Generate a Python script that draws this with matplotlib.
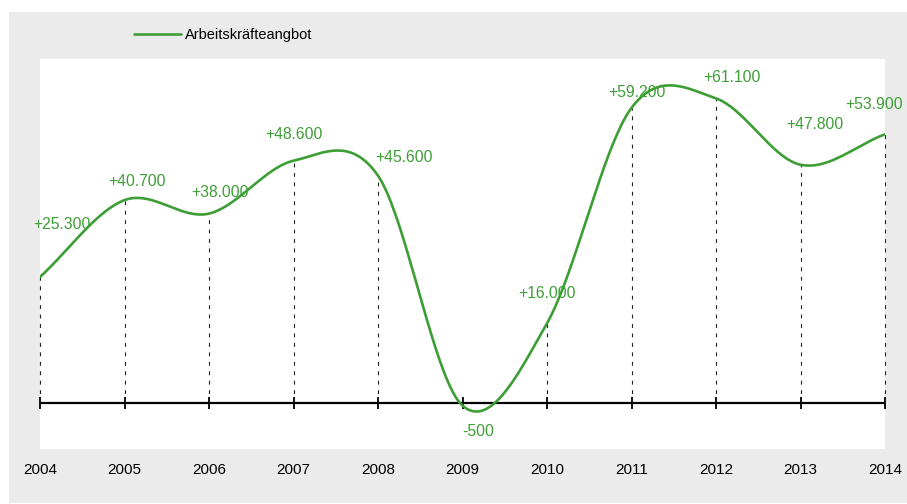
import matplotlib.pyplot as plt
import matplotlib.patches as mpatches
import matplotlib.transforms as mtransforms
import numpy as np

years = [2004, 2005, 2006, 2007, 2008, 2009, 2010, 2011, 2012, 2013, 2014]
values = [25300, 40700, 38000, 48600, 45600, -500, 16000, 59200, 61100, 47800, 53900]
labels = ["+25.300", "+40.700", "+38.000", "+48.600", "+45.600", "-500",
          "+16.000", "+59.200", "+61.100", "+47.800", "+53.900"]
series_name = "Arbeitskräfteangbot"

# label offsets in pixels (dx, dy up) relative to the point
label_offsets = [(22, 52), (12, 19), (11, 21), (0, 26), (26, 18), (16, -26),
                 (0, 30), (5, 15), (16, 21), (14, 40), (-11, 30)]

green = '#3d9e35'
grey_bg = '#ebebeb'


def catmull_rom(x, y, n=40):
    x = np.asarray(x, float)
    y = np.asarray(y, float)
    m = np.zeros_like(y)
    m[1:-1] = (y[2:] - y[:-2]) / (x[2:] - x[:-2])
    m[0] = (y[1] - y[0]) / (x[1] - x[0])
    m[-1] = (y[-1] - y[-2]) / (x[-1] - x[-2])
    xs, ys = [], []
    for i in range(len(x) - 1):
        h = x[i + 1] - x[i]
        t = np.linspace(0, 1, n, endpoint=False)
        h00 = 2 * t**3 - 3 * t**2 + 1
        h10 = t**3 - 2 * t**2 + t
        h01 = -2 * t**3 + 3 * t**2
        h11 = t**3 - t**2
        xs.append(x[i] + t * h)
        ys.append(h00 * y[i] + h10 * h * m[i] + h01 * y[i + 1] + h11 * h * m[i + 1])
    xs.append([x[-1]])
    ys.append([y[-1]])
    return np.concatenate(xs), np.concatenate(ys)


def main():
    plt.rcParams['font.family'] = ['Liberation Sans', 'DejaVu Sans']
    fig = plt.figure(figsize=(9.07, 5.04), dpi=100)
    fig.patch.set_facecolor('white')
    W, H = 907, 504
    fig.patches.append(mpatches.Rectangle((9 / W, 1 - 503 / H), 898 / W, 491 / H,
                                          transform=fig.transFigure,
                                          facecolor=grey_bg, edgecolor='none', zorder=-10))

    ax = fig.add_axes([40 / W, 1 - 449 / H, 845 / W, 390 / H])
    ax.set_facecolor('white')
    ax.set_xlim(2004, 2014)
    ax.set_ylim(-9200, 69000)

    xs, ys = catmull_rom(years, values)
    line, = ax.plot(xs, ys, color=green, lw=1.9, label=series_name, zorder=3,
                    solid_capstyle='round')

    for yr, v in zip(years, values):
        ax.plot([yr, yr], [0, v], color='#222222', lw=0.8, ls=(0, (3.5, 5)), zorder=2,
                clip_on=False)

    ax.axhline(0, color='black', lw=1.6, zorder=2)

    for yr, v, lab, (dx, dy) in zip(years, values, labels, label_offsets):
        ax.annotate(lab, (yr, v), xytext=(dx * 0.72, dy * 0.72), textcoords='offset points',
                    ha='center', va='center', color=green, fontsize=11.3, zorder=4)

    for s in ['left', 'right', 'top']:
        ax.spines[s].set_visible(False)
    ax.spines['bottom'].set_position(('data', 0))
    ax.spines['bottom'].set_visible(False)
    ax.set_xticks(years)
    ax.tick_params(axis='x', direction='inout', length=8, width=1.3, color='black',
                   labelbottom=False)
    ax.set_yticks([])

    trans = mtransforms.blended_transform_factory(ax.transData, fig.transFigure)
    for yr in years:
        ax.text(yr, 1 - 470 / H, str(yr), transform=trans, ha='center', va='center',
                fontsize=11, color='black', clip_on=False)

    fig.legend(handles=[line], loc='center left', bbox_to_anchor=(128 / W, 1 - 35 / H),
               frameon=False, fontsize=10.5, handlelength=3.2, handletextpad=0.3,
               borderaxespad=0)

    plt.savefig('out.png', dpi=100)


if __name__ == '__main__':
    main()
